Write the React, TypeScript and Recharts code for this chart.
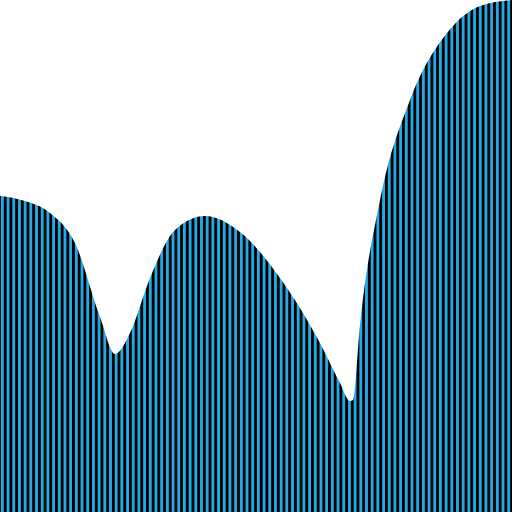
import React from 'react';
import { Area, AreaChart, XAxis, YAxis } from 'recharts';

// sample positions along the x axis and the height of the curve at each
const positions = [0, 25, 50, 75, 100, 115, 130, 150, 175, 205, 240, 280, 320, 340, 350, 353, 360, 380, 410, 447, 480, 512];
const heights = [316, 311, 299, 269, 195, 158, 179, 234, 282, 296, 280, 234, 169, 129, 111, 112, 187, 312, 412, 479, 506, 512];

const data = positions.map((x, i) => ({ x, v: heights[i] }));

const STRIPE = '#22aae6';

export default function App() {
  return (
    <div style={{ position: 'fixed', left: 0, top: 0, width: 512, height: 512, background: '#fff' }}>
      <AreaChart width={512} height={512} data={data} margin={{ top: 0, right: 0, bottom: 0, left: 0 }}>
        <defs>
          <pattern id="stripes" patternUnits="userSpaceOnUse" x={0} y={0} width={5.689} height={10}>
            <rect x={0} y={0} width={5.689} height={10} fill="#000" shapeRendering="crispEdges" />
            <rect x={1} y={0} width={2.6} height={10} fill={STRIPE} shapeRendering="crispEdges" />
          </pattern>
        </defs>
        <XAxis dataKey="x" type="number" domain={[0, 512]} hide />
        <YAxis type="number" domain={[0, 512]} hide />
        <Area
          type="monotone"
          dataKey="v"
          stroke="none"
          fill="url(#stripes)"
          fillOpacity={1}
          dot={false}
          activeDot={false}
          isAnimationActive={false}
        />
      </AreaChart>
    </div>
  );
}
